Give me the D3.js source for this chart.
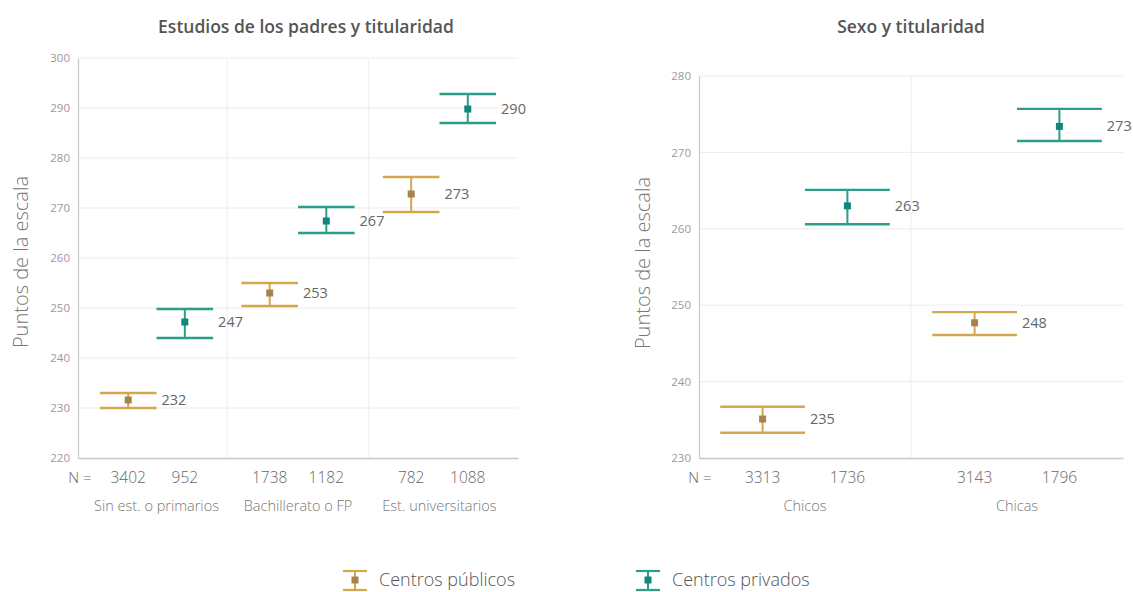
<!DOCTYPE html>
<html>
<head>
<meta charset="utf-8">
<script src="https://cdn.jsdelivr.net/npm/d3@7"></script>
<style>
  html, body { margin: 0; padding: 0; background: #fff; }
  svg { display: block; font-family: "Open Sans", "Noto Sans", sans-serif; }
</style>
</head>
<body>
<svg id="chart" width="1133" height="592"></svg>
<script>
// ---------- DATA ----------
const series = ["Centros públicos", "Centros privados"];
const seriesColors = ["#d2a84e", "#2b9e89"];
const markerColors = ["#a8824c", "#14857a"];

// Panel 1: Estudios de los padres y titularidad
const eduTitle = "Estudios de los padres y titularidad";
const eduCategories = ["Sin est. o primarios", "Bachillerato o FP", "Est. universitarios"];
const eduMeanPublic = [231.6, 253.0, 272.8];
const eduMeanPrivate = [247.2, 267.4, 289.8];
const eduLowPublic = [230.0, 250.4, 269.2];
const eduHighPublic = [233.0, 255.0, 276.2];
const eduLowPrivate = [244.0, 265.0, 287.0];
const eduHighPrivate = [249.8, 270.2, 292.8];
const eduNPublic = ["3402", "1738", "782"];
const eduNPrivate = ["952", "1182", "1088"];
const eduTicks = [220, 230, 240, 250, 260, 270, 280, 290, 300];

// Panel 2: Sexo y titularidad
const sexTitle = "Sexo y titularidad";
const sexCategories = ["Chicos", "Chicas"];
const sexMeanPublic = [235.1, 247.7];
const sexMeanPrivate = [263.0, 273.4];
const sexLowPublic = [233.3, 246.1];
const sexHighPublic = [236.7, 249.1];
const sexLowPrivate = [260.6, 271.5];
const sexHighPrivate = [265.1, 275.7];
const sexNPublic = ["3313", "3143"];
const sexNPrivate = ["1736", "1796"];
const sexTicks = [230, 240, 250, 260, 270, 280];

const yTitle = "Puntos de la escala";

// ---------- DRAW ----------
const svg = d3.select("#chart");

function panel(cfg) {
  const g = svg.append("g");
  const y = d3.scaleLinear().domain(cfg.domain).range([cfg.y1, cfg.y0]);
  const x0 = d3.scaleBand().domain(cfg.categories).range([cfg.x0, cfg.x1])
    .paddingInner(0).paddingOuter(cfg.padOuter);
  const w = x0.bandwidth() * 0.4;
  const x1 = d3.scaleBand().domain(series).range([-w, w]).padding(0);
  const capW = x1.bandwidth();

  // gridlines
  g.append("g").selectAll("line").data(cfg.ticks.slice(1)).join("line")
    .attr("x1", cfg.x0).attr("x2", cfg.x1)
    .attr("y1", d => y(d)).attr("y2", d => y(d))
    .attr("stroke", "#ececec").attr("stroke-width", 1);
  // vertical dividers between groups
  const cats = cfg.categories;
  g.append("g").selectAll("line").data(cats.slice(1)).join("line")
    .attr("x1", (d, i) => (x0(cats[i]) + x0(d)) / 2 + x0.bandwidth() / 2)
    .attr("x2", (d, i) => (x0(cats[i]) + x0(d)) / 2 + x0.bandwidth() / 2)
    .attr("y1", cfg.y0).attr("y2", cfg.y1)
    .attr("stroke", "#eeeeee").attr("stroke-width", 1);

  // y axis
  const yAxis = d3.axisLeft(y).tickValues(cfg.ticks).tickSize(0).tickPadding(8);
  const ya = g.append("g").attr("transform", `translate(${cfg.x0},0)`).call(yAxis);
  ya.select(".domain").attr("stroke", "#c8c8c8").attr("stroke-width", 1.2);
  ya.selectAll("text").attr("fill", "#9a9a9a").attr("font-size", 11.5)
    .attr("font-family", "'Open Sans', sans-serif");

  // x axis line
  const xa = g.append("g").attr("transform", `translate(0,${cfg.y1})`)
    .call(d3.axisBottom(x0).tickSize(0).tickFormat(""));
  xa.select(".domain").attr("stroke", "#c8c8c8").attr("stroke-width", 1.5);

  // N labels
  g.append("text").attr("x", cfg.x0 + cfg.nOffset).attr("y", cfg.y1 + 25)
    .attr("text-anchor", "middle").attr("fill", "#666").attr("font-size", 15)
    .attr("font-weight", 300).text("N =");
  const rows = [];
  cats.forEach((c, i) => {
    rows.push({cat: c, s: series[0], mean: cfg.meanPub[i], lo: cfg.loPub[i], hi: cfg.hiPub[i], n: cfg.nPub[i], k: 0});
    rows.push({cat: c, s: series[1], mean: cfg.meanPriv[i], lo: cfg.loPriv[i], hi: cfg.hiPriv[i], n: cfg.nPriv[i], k: 1});
  });
  const cx = d => x0(d.cat) + x0.bandwidth() / 2 + x1(d.s) + capW / 2;

  g.append("g").selectAll("text").data(rows).join("text")
    .attr("x", cx).attr("y", cfg.y1 + 25)
    .attr("text-anchor", "middle").attr("fill", "#666").attr("font-size", 15.5)
    .attr("font-weight", 300).text(d => d.n);

  g.append("g").selectAll("text").data(cats).join("text")
    .attr("x", d => x0(d) + x0.bandwidth() / 2).attr("y", cfg.y1 + 53)
    .attr("text-anchor", "middle").attr("fill", "#777").attr("font-size", 14.5)
    .attr("font-weight", 300).text(d => d);

  // error bars
  const eb = g.append("g").selectAll("g").data(rows).join("g");
  eb.append("line")
    .attr("x1", cx).attr("x2", cx)
    .attr("y1", d => y(d.hi)).attr("y2", d => y(d.lo))
    .attr("stroke", d => seriesColors[d.k]).attr("stroke-width", 2);
  eb.append("line")
    .attr("x1", d => cx(d) - capW / 2).attr("x2", d => cx(d) + capW / 2)
    .attr("y1", d => y(d.hi)).attr("y2", d => y(d.hi))
    .attr("stroke", d => seriesColors[d.k]).attr("stroke-width", 2.4);
  eb.append("line")
    .attr("x1", d => cx(d) - capW / 2).attr("x2", d => cx(d) + capW / 2)
    .attr("y1", d => y(d.lo)).attr("y2", d => y(d.lo))
    .attr("stroke", d => seriesColors[d.k]).attr("stroke-width", 2.4);
  eb.append("rect")
    .attr("x", d => cx(d) - 3.5).attr("y", d => y(d.mean) - 3.5)
    .attr("width", 7).attr("height", 7)
    .attr("fill", d => markerColors[d.k]);
  eb.append("text")
    .attr("x", d => cx(d) + capW / 2 + 5).attr("y", d => y(d.mean))
    .attr("dy", "0.35em").attr("fill", "#666").attr("font-size", 14.5)
    .text(d => d3.format(".0f")(Math.floor(d.mean + 0.4)));

  // titles
  g.append("text").attr("x", cfg.titleX).attr("y", 33)
    .attr("text-anchor", "middle").attr("fill", "#555")
    .attr("font-size", 17.5).attr("font-weight", 600).text(cfg.title);
  g.append("text")
    .attr("transform", `translate(${cfg.yTitleX},${cfg.yTitleY}) rotate(-90)`)
    .attr("text-anchor", "middle").attr("fill", "#777")
    .attr("font-size", 20).attr("font-weight", 300).text(yTitle);
}

panel({
  title: eduTitle, titleX: 306,
  categories: eduCategories, domain: [220, 300], ticks: eduTicks,
  x0: 78, x1: 518, y0: 58, y1: 458, padOuter: 0.055, nOffset: 2,
  meanPub: eduMeanPublic, loPub: eduLowPublic, hiPub: eduHighPublic, nPub: eduNPublic,
  meanPriv: eduMeanPrivate, loPriv: eduLowPrivate, hiPriv: eduHighPrivate, nPriv: eduNPrivate,
  yTitleX: 28, yTitleY: 262
});

panel({
  title: sexTitle, titleX: 911,
  categories: sexCategories, domain: [230, 280], ticks: sexTicks,
  x0: 699, x1: 1123, y0: 76, y1: 458, padOuter: 0, nOffset: 1,
  meanPub: sexMeanPublic, loPub: sexLowPublic, hiPub: sexHighPublic, nPub: sexNPublic,
  meanPriv: sexMeanPrivate, loPriv: sexLowPrivate, hiPriv: sexHighPrivate, nPriv: sexNPrivate,
  yTitleX: 650, yTitleY: 263
});

// legend
const legendX = [343, 636];
const lg = svg.append("g").selectAll("g").data(series).join("g")
  .attr("transform", (d, i) => `translate(${legendX[i]},580)`);
lg.append("line").attr("x1", 0).attr("x2", 24).attr("y1", -9).attr("y2", -9)
  .attr("stroke", (d, i) => seriesColors[i]).attr("stroke-width", 2.2);
lg.append("line").attr("x1", 0).attr("x2", 24).attr("y1", 10).attr("y2", 10)
  .attr("stroke", (d, i) => seriesColors[i]).attr("stroke-width", 2.2);
lg.append("line").attr("x1", 12).attr("x2", 12).attr("y1", -9).attr("y2", 10)
  .attr("stroke", (d, i) => seriesColors[i]).attr("stroke-width", 2);
lg.append("rect").attr("x", 8.5).attr("y", -3.5).attr("width", 7).attr("height", 7)
  .attr("fill", (d, i) => markerColors[i]);
lg.append("text").attr("x", 36).attr("y", 0).attr("dy", "0.35em")
  .attr("fill", "#555").attr("font-size", 18).attr("font-weight", 300).text(d => d);
</script>
</body>
</html>
